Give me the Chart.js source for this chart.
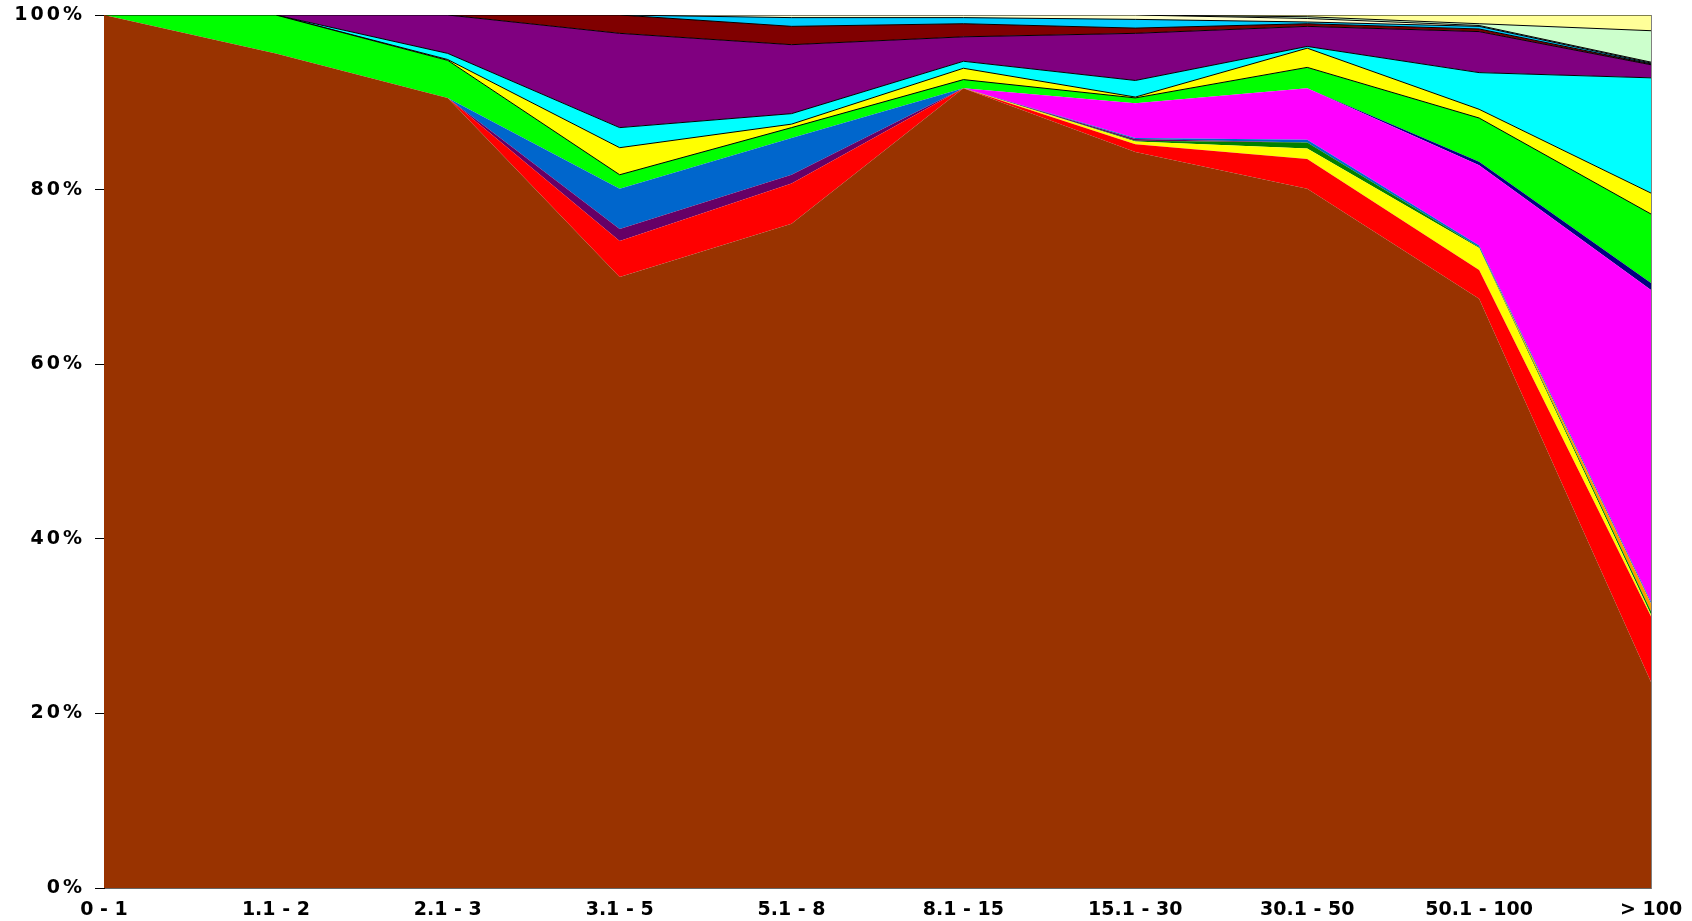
<!DOCTYPE html>
<html><head><meta charset="utf-8">
<script src="https://cdn.jsdelivr.net/npm/chart.js@4.4.1/dist/chart.umd.min.js"></script>
<style>html,body{margin:0;padding:0;background:#fff;}#wrap{width:1692px;height:921px;}</style>
</head><body><div id="wrap"><canvas id="c" width="1692" height="921"></canvas></div>
<script>
const categories = ["0 - 1","1.1 - 2","2.1 - 3","3.1 - 5","5.1 - 8","8.1 - 15","15.1 - 30","30.1 - 50","50.1 - 100","> 100"];
const yTicks = [0,20,40,60,80,100];

// stacked shares (%), bottom to top
const s01 = [100, 95.6, 90.5, 70.0, 76.1, 91.6, 84.3, 80.1, 67.5, 23.6];
const s02 = [0, 0, 0, 4.1, 4.6, 0, 0.9, 3.4, 3.3, 7.5];
const s03 = [0, 0, 0, 0, 0, 0, 0.3, 1.2, 2.5, 0.2];
const s04 = [0, 0, 0, 0, 0, 0, 0.1, 0.7, 0.1, 0.4];
const s05 = [0, 0, 0, 0, 0, 0, 0, 0, 0, 0.9];
const s06 = [0, 0, 0, 1.4, 1.0, 0, 0.2, 0, 0, 0];
const s07 = [0, 0, 0, 4.6, 4.2, 0, 0.1, 0.3, 0.2, 0.2];
const s08 = [0, 0, 0, 0, 0, 0, 4.0, 5.9, 9.2, 35.7];
const s09 = [0, 0, 0, 0, 0, 0, 0, 0, 0.4, 0.8];
const s10 = [0, 4.4, 4.3, 1.6, 1.2, 1.0, 0.6, 2.4, 5.0, 7.9];
const s11 = [0, 0, 0.1, 3.1, 0.4, 1.3, 0.1, 2.2, 1.0, 2.4];
const s12 = [0, 0, 0.7, 2.3, 1.2, 0.8, 1.9, 0.2, 4.2, 13.2];
const s13 = [0, 0, 4.4, 10.8, 7.9, 2.8, 5.4, 2.3, 4.7, 1.5];
const s14 = [0, 0, 0, 2.1, 2.1, 1.5, 0.6, 0.3, 0.3, 0.1];
const s15 = [0, 0, 0, 0, 1.0, 0.7, 1.0, 0.2, 0.3, 0.1];
const s16 = [0, 0, 0, 0, 0.3, 0.3, 0.5, 0.4, 0.1, 0.1];
const s17 = [0, 0, 0, 0, 0, 0, 0, 0.2, 0.2, 3.6];
const s18 = [0, 0, 0, 0, 0, 0, 0, 0.2, 1.0, 1.8];

const seriesData = [s01,s02,s03,s04,s05,s06,s07,s08,s09,s10,s11,s12,s13,s14,s15,s16,s17,s18];
const fills = ['#993300','#FF0000','#FFFF00','#008000','#FF9900','#660066','#0066CC','#FF00FF','#000080',
               '#00FF00','#FFFF00','#00FFFF','#800080','#800000','#00CCFF','#FFFFCC','#CCFFCC','#FFFF99'];
const outlined = [false,false,false,false,false,false,false,false,false,
                  true,true,true,true,true,true,true,true,true];

const datasets = seriesData.map((d,i)=>({
  label: 'Series ' + (i+1),
  data: d,
  backgroundColor: fills[i],
  borderColor: outlined[i] ? '#000000' : 'rgba(0,0,0,0)',
  borderWidth: outlined[i] ? 1 : 0,
  fill: i === 0 ? 'origin' : '-1',
  pointRadius: 0,
  tension: 0
}));

const tickFont = {family:'DejaVu Sans', weight:'bold', size:19};

function widenLabels(s){
  if (s._widened) return;
  s._widened = true;
  const orig = s.drawLabels.bind(s);
  s.drawLabels = function(area){
    const c = this.ctx;
    const prev = c.letterSpacing;
    c.letterSpacing = '3px';
    orig(area);
    c.letterSpacing = prev || '0px';
  };
}

new Chart(document.getElementById('c'), {
  type: 'line',
  data: {labels: categories, datasets},
  options: {
    responsive: false,
    animation: false,
    layout: {padding: {top: 15, right: 41, left: 0, bottom: 0}},
    plugins: {legend: {display: false}, tooltip: {enabled: false}},
    elements: {point: {radius: 0}, line: {tension: 0}},
    scales: {
      x: {
        offset: false,
        grid: {display: false, drawTicks: false},
        border: {display: true, color: '#666'},
        ticks: {color: '#000', font: tickFont, padding: 11, maxRotation: 0, autoSkip: false},
        afterFit(s){ s.height = 33; s.paddingLeft = 0; s.paddingRight = 0; }
      },
      y: {
        stacked: true, min: 0, max: 100,
        afterBuildTicks(s){ s.ticks = yTicks.map(v=>({value:v})); },
        ticks: {color: '#000', font: tickFont, padding: 10, callback: v => v + '%'},
        grid: {display: true, drawOnChartArea: false, drawTicks: true, tickLength: 9, color: '#000'},
        border: {display: true, color: '#000'},
        afterFit(s){ s.width = 104; s.paddingTop = 0; s.paddingBottom = 0; widenLabels(s); }
      },
      yR: {
        position: 'right', min: 0, max: 100,
        ticks: {display: false},
        grid: {display: false, drawTicks: false},
        border: {display: true, color: '#808080'},
        afterFit(s){ s.width = 0; s.paddingTop = 0; s.paddingBottom = 0; }
      }
    }
  }
});
</script></body></html>
